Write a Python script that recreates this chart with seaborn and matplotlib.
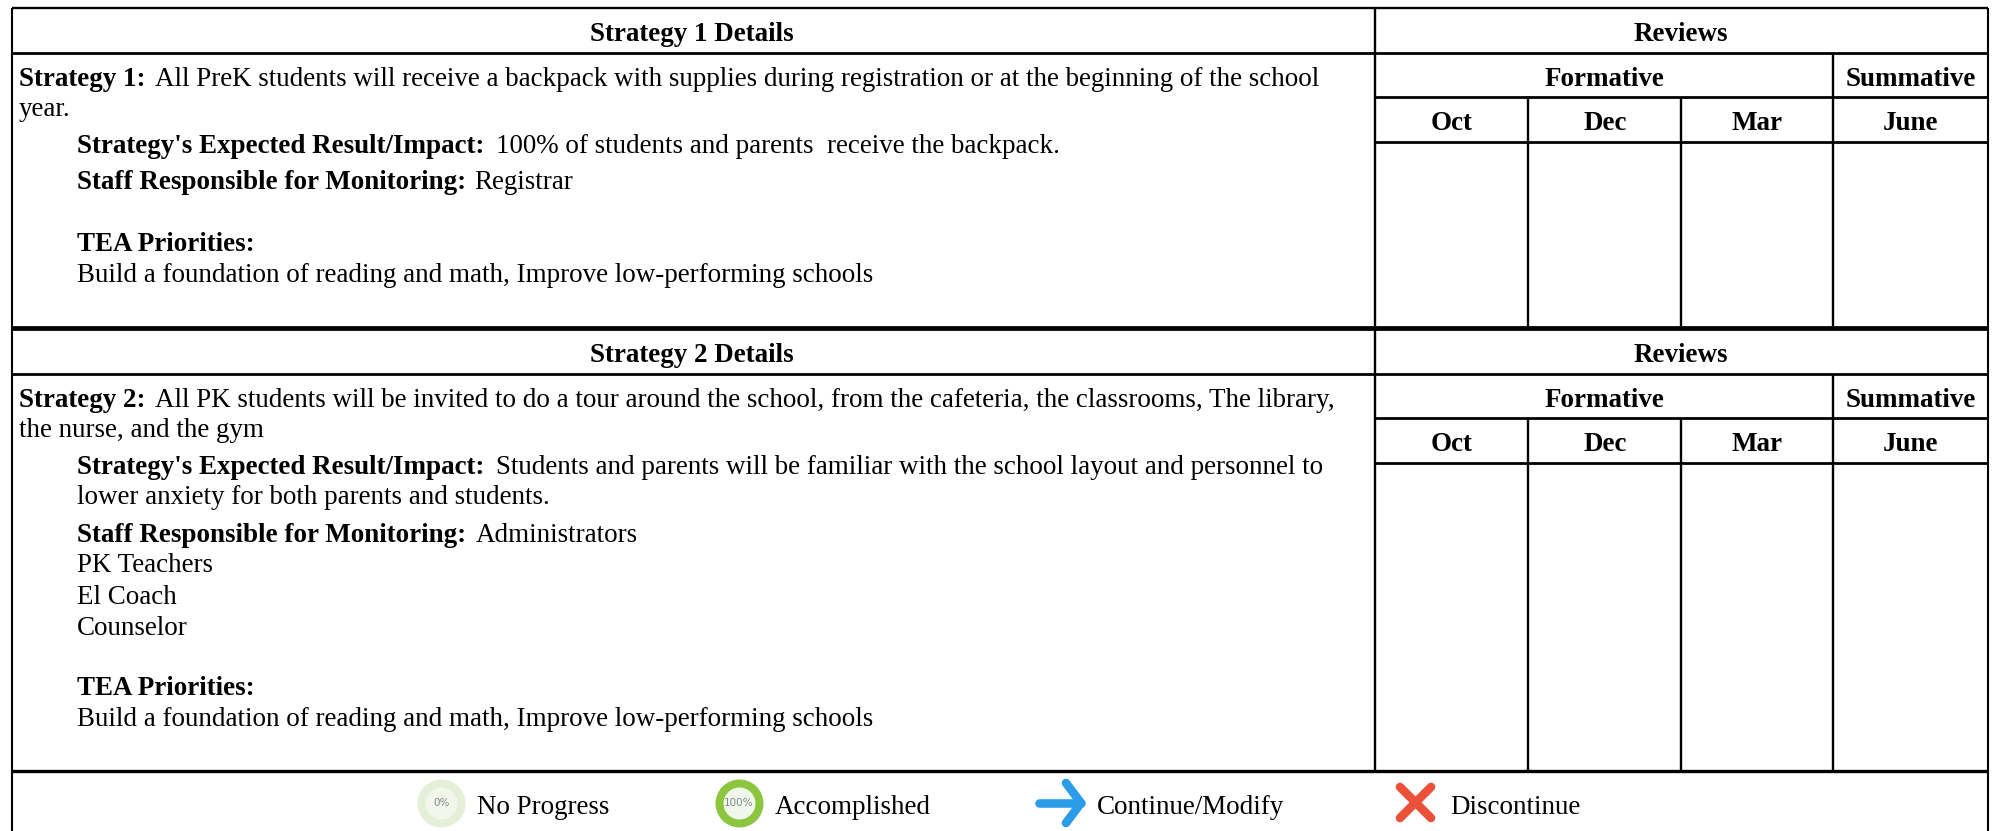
"""
Campus plan table: strategy details and reviews
"""
import matplotlib
matplotlib.use('Agg')
import matplotlib.pyplot as plt
import seaborn as sns

# Texts of the table
review_title = 'Reviews'
review_groups = ['Formative', 'Summative']
review_months = ['Oct', 'Dec', 'Mar', 'June']
strategy_titles = ['Strategy 1 Details', 'Strategy 2 Details']

legend_labels = ['No Progress', 'Accomplished', 'Continue/Modify', 'Discontinue']
ring_labels = ['0%', '100%']
ring_colors = ['#E3EFD6', '#8CC63F']

# Configurações
sns.set_theme(style='white')
plt.rcParams['font.family'] = ['Liberation Serif', 'DejaVu Serif']

FS = 19.45
DY = 1.3  # ajuste fino da linha de base
W, H = 1997, 831

fig, ax = plt.subplots(figsize=(W / 100, H / 100), dpi=100)
fig.subplots_adjust(0, 0, 1, 1)
ax.set_xlim(0, W)
ax.set_ylim(H, 0)
ax.axis('off')
sns.despine(ax=ax, left=True, bottom=True)


def hline(y, x0=12, x1=1988, lw=2.0):
    ax.plot([x0, x1], [y, y], color='black', lw=lw, solid_capstyle='butt')


def vline(x, y0, y1, lw=1.7):
    ax.plot([x, x], [y0, y1], color='black', lw=lw, solid_capstyle='butt')


def mixed(x, y, bold, regular=None, gap=9.5):
    """Bold label followed by regular text on the same baseline"""
    t = ax.text(x, y + DY, bold, fontsize=FS, fontweight='bold', va='baseline', ha='left', color='black')
    if regular:
        box = t.get_window_extent(fig.canvas.get_renderer())
        ax.text(box.x1 + gap, y + DY, regular, fontsize=FS, va='baseline', ha='left', color='black')


def plain(x, y, s):
    ax.text(x, y + DY, s, fontsize=FS, va='baseline', ha='left', color='black')


def center(x, y, s):
    ax.text(x, y + DY, s, fontsize=FS, fontweight='bold', va='baseline', ha='center', color='black')


def block(top, bottom, title):
    """Header rows and review columns of one strategy, top is the upper rule"""
    center(692, top + 32, title)
    center(1681, top + 32, review_title)
    center(1604, top + 77, review_groups[0])
    center(1911, top + 77, review_groups[1])
    for x, m in zip([1452, 1605, 1757.5, 1911], review_months):
        center(x, top + 121, m)
    hline(top + 44.5)
    hline(top + 89, 1375, 1988)
    hline(top + 133.5, 1375, 1988)
    vline(1375.5, top, bottom)
    vline(1833.5, top + 44.5, bottom)
    for x in [1528.5, 1681.5]:
        vline(x, top + 89, bottom)


# Molduras
hline(8, lw=1.7)
hline(326.5)
hline(329)
hline(771, x0=12, x1=1988, lw=2.4)
vline(12, 8, H, lw=1.5)
vline(1988, 8, H, lw=1.5)
block(8, 326, strategy_titles[0])
block(329, 771, strategy_titles[1])

# Strategy 1
mixed(19, 85, 'Strategy 1:', 'All PreK students will receive a backpack with supplies during registration or at the beginning of the school')
plain(19, 115, 'year.')
mixed(77, 152, "Strategy's Expected Result/Impact:", '100% of students and parents  receive the backpack.', gap=12)
mixed(77, 188, 'Staff Responsible for Monitoring:', 'Registrar', gap=8.5)
mixed(77, 250, 'TEA Priorities:')
plain(77, 281, 'Build a foundation of reading and math, Improve low-performing schools')

# Strategy 2
mixed(19, 406, 'Strategy 2:', 'All PK students will be invited to do a tour around the school, from the cafeteria, the classrooms, The library,')
plain(19, 436, 'the nurse, and the gym')
mixed(77, 473, "Strategy's Expected Result/Impact:", 'Students and parents will be familiar with the school layout and personnel to', gap=12)
plain(77, 503, 'lower anxiety for both parents and students.')
mixed(77, 541, 'Staff Responsible for Monitoring:', 'Administrators')
plain(77, 571, 'PK Teachers')
plain(77, 603, 'El Coach')
plain(77, 634, 'Counselor')
mixed(77, 694, 'TEA Priorities:')
plain(77, 725, 'Build a foundation of reading and math, Improve low-performing schools')

# Legenda
for x, color, lab in zip([441.5, 739], ring_colors, ring_labels):
    sns.scatterplot(x=[x], y=[803], s=1195, color=color, linewidth=0, ax=ax, legend=False, clip_on=False)
    sns.scatterplot(x=[x], y=[803], s=530, color='#F2F7EC', linewidth=0, ax=ax, legend=False, clip_on=False)
    ax.text(x, 803.5, lab, fontsize=7.5, family='DejaVu Sans', color='#7F8A8C',
            ha='center', va='center')

arrow_kw = dict(color='#2B9CE8', lw=6.2, solid_capstyle='round', solid_joinstyle='round')
ax.plot([1039, 1081], [803, 803], **arrow_kw)
ax.plot([1066, 1081, 1066], [783, 803, 823], **arrow_kw)
x_kw = dict(color='#EB5038', lw=6.2, solid_capstyle='round')
ax.plot([1400, 1431], [787, 818], **x_kw)
ax.plot([1400, 1431], [818, 787], **x_kw)

for x, lab in zip([477, 775, 1097, 1450], legend_labels):
    plain(x, 813, lab)

plt.savefig('out.png', dpi=100)
plt.close()
